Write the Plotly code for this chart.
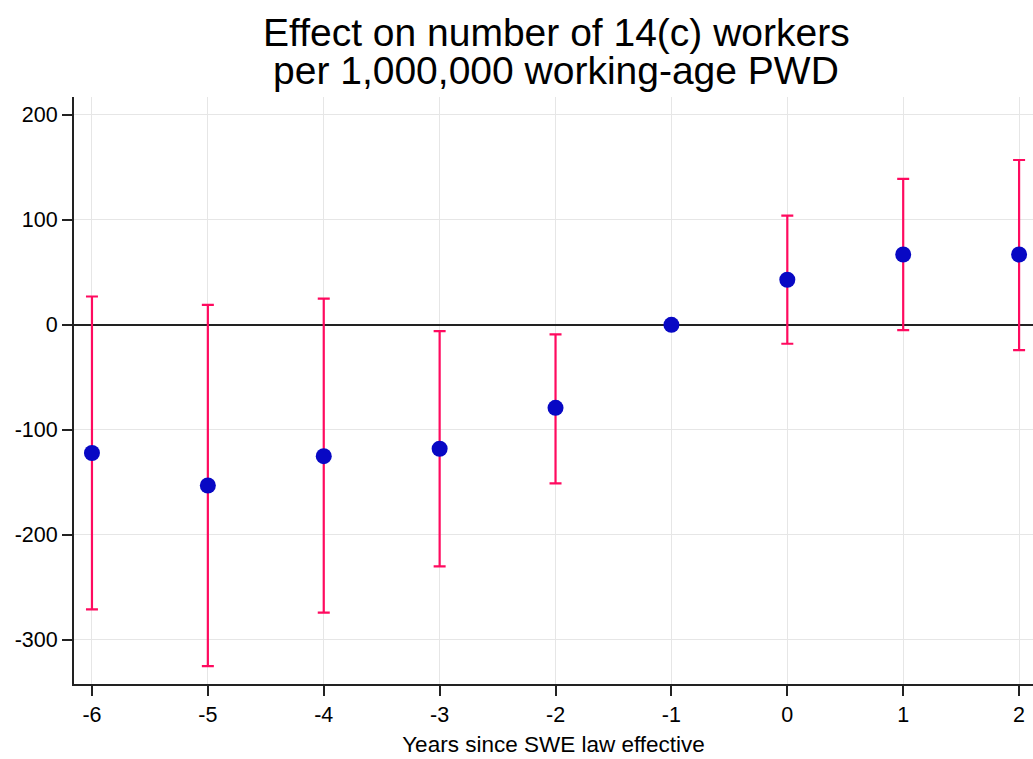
import plotly.graph_objects as go

years = [-6, -5, -4, -3, -2, -1, 0, 1, 2]
estimate = [-122, -153, -125, -118, -79, 0, 43, 67, 67]
ci_low = [-271, -325, -274, -230, -151, 0, -18, -5, -24]
ci_high = [27, 19, 25, -6, -9, 0, 104, 139, 157]

x_ticks = [-6, -5, -4, -3, -2, -1, 0, 1, 2]
y_ticks = [-300, -200, -100, 0, 100, 200]

title_lines = ["Effect on number of 14(c) workers", "per 1,000,000 working-age PWD"]
x_title = "Years since SWE law effective"

err_plus = [h - e for h, e in zip(ci_high, estimate)]
err_minus = [e - l for e, l in zip(estimate, ci_low)]

font_family = "Liberation Sans, Arial, Helvetica, sans-serif"

W, H = 1033, 759
L, R, T, B = 74, 0, 97, 75
plot_h = H - T - B
plot_w = W - L - R


def py_to_paper(py):
    return (H - B - py) / plot_h


fig = go.Figure()
fig.add_trace(go.Scatter(
    x=years, y=estimate, mode="markers",
    marker=dict(color="#0808c4", size=16, line=dict(width=0)),
    error_y=dict(type="data", array=err_plus, arrayminus=err_minus,
                 color="#ff0a5f", thickness=2.2, width=6, visible=True),
    showlegend=False,
))

title_centers = [33, 71]
for txt, cy in zip(title_lines, title_centers):
    fig.add_annotation(
        text=txt, xref="paper", yref="paper",
        x=(556 - L) / plot_w, y=py_to_paper(cy),
        xanchor="center", yanchor="middle", showarrow=False,
        font=dict(size=39, family=font_family, color="black"),
    )

fig.update_layout(
    width=W, height=H,
    margin=dict(l=L, r=R, t=T, b=B),
    paper_bgcolor="white", plot_bgcolor="white",
    font=dict(family=font_family, color="black", size=21),
    xaxis=dict(
        range=[-6.155, 2.12], tickvals=x_ticks, ticktext=[str(v) for v in x_ticks],
        showgrid=True, gridcolor="#e6e6e6", gridwidth=1,
        showline=True, linecolor="#222", linewidth=2,
        ticks="outside", ticklen=10, tickwidth=1.5, tickcolor="#222",
        zeroline=False, tickfont=dict(size=21.5),
        title=dict(text=x_title, font=dict(size=22.5), standoff=10),
    ),
    yaxis=dict(
        range=[-342, 217], tickvals=y_ticks, ticktext=[str(v) for v in y_ticks],
        showgrid=True, gridcolor="#e6e6e6", gridwidth=1,
        showline=True, linecolor="#222", linewidth=2,
        ticks="outside", ticklen=10, tickwidth=1.5, tickcolor="#222",
        zeroline=True, zerolinecolor="#222", zerolinewidth=1.8,
        tickfont=dict(size=21.5),
    ),
)

fig.write_html(
    "out.html",
    config={"displayModeBar": False},
    post_script="document.body.style.margin='0';document.body.style.overflow='hidden';",
)
